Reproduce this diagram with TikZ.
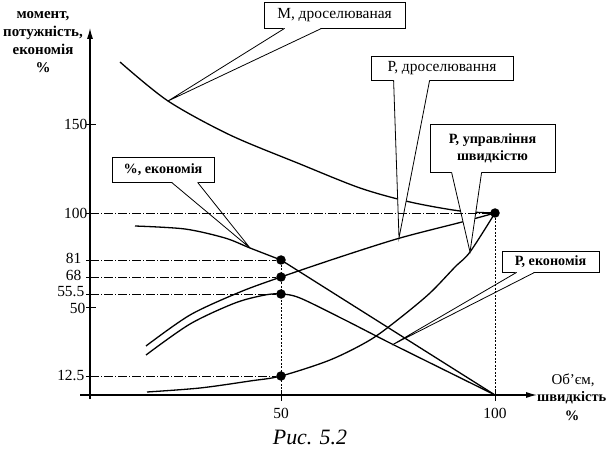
\documentclass[tikz,border=0pt]{standalone}
\usepackage{fontspec}
\setmainfont{Liberation Serif}
\usetikzlibrary{arrows.meta,calc,shadows}
\begin{document}
\begin{tikzpicture}[x=1bp,y=-1bp,
 curve/.style={line width=1.3bp},
 guide/.style={line width=0.6bp, dash pattern=on 9bp off 2bp on 1bp off 2bp},
 vguide/.style={line width=0.6bp, dash pattern=on 2bp off 1.5bp},
 callbox/.style={draw, line width=0.8bp, fill=white, inner sep=0pt, align=center,
   drop shadow={shadow xshift=1.2bp, shadow yshift=-1.2bp, opacity=1, fill=black}},
 wedge/.style={line width=0.8bp},
 dot/.style={circle, fill=black, inner sep=0pt, minimum size=9.5bp},
 ticklab/.style={font=\fontsize{15.5}{17}\selectfont, inner sep=0.5bp},
 boxfont/.style={font=\fontsize{15.5}{17}\selectfont},
 boxfontb/.style={font=\fontsize{14.2}{17}\selectfont\bfseries},
]
\useasboundingbox (0,0) rectangle (609,451);

% axes
\coordinate (yb) at (90,399);
\coordinate (yt) at (90,28);
\coordinate (xl) at (80,395);
\coordinate (xr) at (537,395);
\draw[line width=1.2bp, -{Latex[length=11bp,width=6bp]}] (yb) -- (yt);
\draw[line width=1.2bp, -{Latex[length=11bp,width=6bp]}] (xl) -- (xr);

% ticks y
\foreach \yy in {124,213,307} \draw[line width=0.8bp] (86,\yy) -- (96,\yy);
\foreach \yy in {260,277,294,376} \draw[line width=0.8bp] (86,\yy) -- (91,\yy);
% ticks x
\foreach \xx in {281,495} \draw[line width=0.8bp] (\xx,390) -- (\xx,401);

% tick labels
\node[ticklab, anchor=east] (l150) at (88,124) {150};
\node[ticklab, anchor=east] (l100) at (88,213) {100};
\node[ticklab, anchor=east] (l81) at (82,258) {81};
\node[ticklab, anchor=east] (l68) at (82,275) {68};
\node[ticklab, anchor=east] (l555) at (85,292) {55.5};
\node[ticklab, anchor=east] (l50) at (86,308) {50};
\node[ticklab, anchor=east] (l125) at (85,375) {12.5};
\node[ticklab] (x50) at (281,413) {50};
\node[ticklab] (x100) at (495,413) {100};

% axis titles
\node[font=\fontsize{15}{18}\selectfont\bfseries, align=center] (ytitle) at (43,42)
  {момент,\\потужність,\\економія\\\%};
\node[font=\fontsize{15}{18}\selectfont, anchor=base] (xt1) at (573,384) {Об’єм,};
\node[font=\fontsize{14.5}{18}\selectfont\bfseries, anchor=base west, inner sep=0pt] (xt2) at (537,401) {швидкість};
\node[font=\fontsize{14.5}{18}\selectfont\bfseries, anchor=base] (xt3) at (572,420) {\%};

% caption
\node[font=\fontsize{22}{24}\selectfont\itshape] (cap) at (310,437) {Рис. 5.2};

% curves
\draw[curve] plot[smooth] coordinates {(120,62) (168,101) (230,135) (300,164) (360,188) (410,202) (460,211) (495,213)};
\draw[curve] plot[smooth] coordinates {(135,226) (185,229) (225,238) (250,248) (281,260)} -- (495,395);
\draw[curve] plot[smooth] coordinates {(146,346) (190,315) (240,292) (281,277) (340,257) (400,238) (462,222) (495,213)};
\draw[curve] plot[smooth] coordinates {(146,355) (190,324) (235,303) (265,295) (281,294) (300,298) (345,320) (392,344) (495,395)};
\draw[curve] plot[smooth] coordinates {(147,392) (200,388) (250,381) (281,376) (330,360) (370,340) (400,318) (430,293) (455,267) (470,252) (495,213)};

% callouts
\coordinate (mtip) at (168,101);
\coordinate (pdtip) at (399,238);
\coordinate (putip) at (470,252);
\coordinate (etip) at (250,248);
\coordinate (petip) at (392,345);

\node[callbox, boxfont, minimum width=141bp, minimum height=26bp] (mbox) at (334.5,15) {М, дроселюваная};
\node[callbox, boxfont, minimum width=142bp, minimum height=24bp] (pdbox) at (442,68) {Р, дроселювання};
\node[callbox, boxfontb, minimum width=125bp, minimum height=48bp] (pubox) at (492.5,148) {Р, управління\\швидкістю};
\node[callbox, boxfontb, minimum width=102bp, minimum height=25bp] (ebox) at (163,169.5) {\%, економія};
\node[callbox, boxfontb, minimum width=97bp, minimum height=21bp] (pebox) at (550.5,261.5) {Р, економія};

\foreach \bx/\tp/\aa/\bb in {mbox/mtip/21/58, pdbox/pdtip/23/59, pubox/putip/22/52, ebox/etip/60/86, pebox/petip/15/33}{
  \fill[white] ($(\bx.south west)+(\aa,-0.5)$) -- (\tp) -- ($(\bx.south west)+(\bb,-0.5)$) -- cycle;
  \draw[wedge] ($(\bx.south west)+(\aa,0)$) -- (\tp) -- ($(\bx.south west)+(\bb,0)$);
}

% guide lines
\coordinate (g100) at (90,213);
\coordinate (g81) at (90,260);
\coordinate (g68) at (90,277);
\coordinate (g55) at (90,294);
\coordinate (g12) at (90,376);
\node[dot] (d81) at (281,260) {};
\node[dot] (d68) at (281,277) {};
\node[dot] (d55) at (281,294) {};
\node[dot] (d12) at (281,376) {};
\node[dot] (d100) at (495,213) {};
\coordinate (a50) at (281,395);
\coordinate (a100) at (495,395);
\draw[guide] (g100) -- (d100);
\draw[guide] (g81) -- (d81);
\draw[guide] (g68) -- (d68);
\draw[guide] (g55) -- (d55);
\draw[guide] (g12) -- (d12);
\draw[vguide] (d81) -- (a50);
\draw[vguide] (d100) -- (a100);
\end{tikzpicture}
\end{document}
